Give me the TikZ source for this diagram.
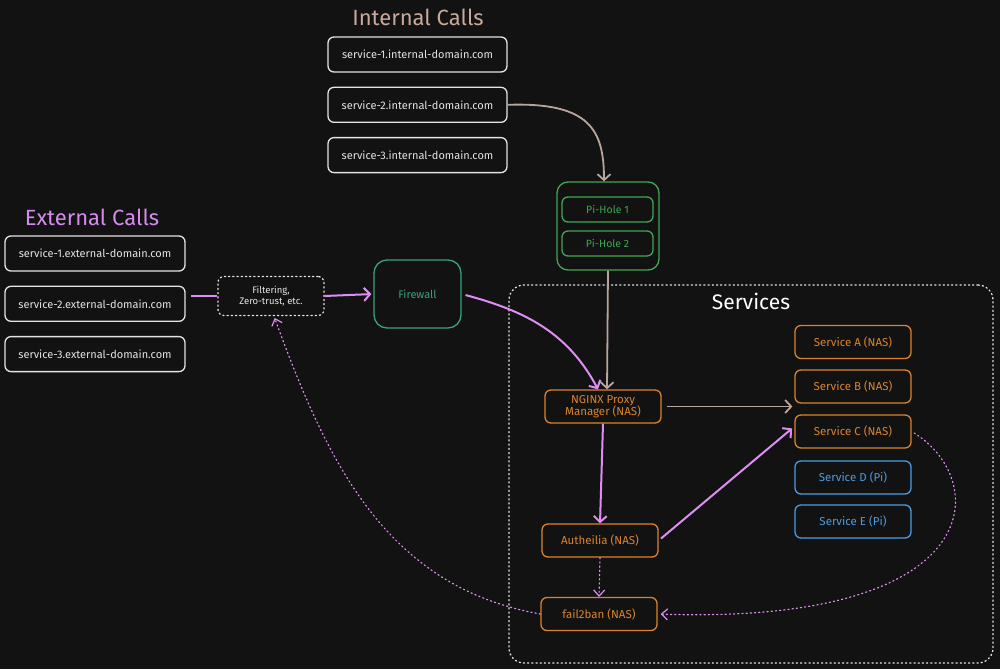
\documentclass[tikz,border=0pt]{standalone}
\usepackage{fontspec}
\setmainfont{Fira Sans}
\usepackage{tikz}
\usetikzlibrary{arrows.meta, positioning, calc}

\definecolor{bgdark}{HTML}{121212}
\definecolor{boxwhite}{HTML}{E4E4E4}
\definecolor{intcol}{HTML}{C9A99A}
\definecolor{extcol}{HTML}{D58AEE}
\definecolor{piholecol}{HTML}{3FA852}
\definecolor{fwcol}{HTML}{3AA17E}
\definecolor{nascol}{HTML}{DB832C}
\definecolor{picol}{HTML}{4C9BE2}
\definecolor{pinkline}{HTML}{DE8DF2}
\definecolor{tanline}{HTML}{B9A59C}

\begin{document}
\begin{tikzpicture}[
  x=1pt, y=-1pt,
  node distance=14pt,
  heading/.style={font=\fontsize{22}{24}\selectfont},
  urlbox/.style={
    draw=boxwhite, text=boxwhite, rounded corners=6pt, line width=1.3pt,
    minimum width=179pt, minimum height=35pt, inner sep=2pt,
    font=\fontsize{11}{13}\selectfont
  },
  svc/.style={
    draw=nascol, text=nascol, rounded corners=6pt, line width=1.3pt,
    minimum width=116pt, minimum height=33pt, inner sep=2pt, align=center,
    font=\fontsize{11.5}{12.5}\selectfont
  },
  pisvc/.style={svc, draw=picol, text=picol},
  hole/.style={svc, draw=piholecol, text=piholecol, minimum width=91pt, minimum height=25pt,
    font=\fontsize{10.5}{12}\selectfont},
  dotline/.style={dash pattern=on 1.2pt off 3pt, line cap=round},
  pinkarrow/.style={draw=pinkline, line width=2pt, -{Straight Barb[length=6pt, width=13pt]}},
  tanarrow/.style={draw=tanline, line width=1.8pt, -{Straight Barb[length=6pt, width=13pt]}},
  dotarrow/.style={draw=pinkline, line width=1.2pt, dotline, -{Straight Barb[length=6pt, width=11pt]}},
]
  % Background
  \fill[bgdark] (0,0) rectangle (1000,669);

  % Internal calls
  \node[heading, text=intcol] (inttitle) at (418,17) {Internal Calls};
  \node[urlbox] (int1) at (417.5,54.5) {service-1.internal-domain.com};
  \node[urlbox, below=of int1] (int2) {service-2.internal-domain.com};
  \node[urlbox, below=of int2] (int3) {service-3.internal-domain.com};

  % External calls
  \node[heading, text=extcol] (exttitle) at (92,217) {External Calls};
  \node[urlbox, minimum width=180pt] (ext1) at (95,253.5) {service-1.external-domain.com};
  \node[urlbox, minimum width=180pt, below=of ext1] (ext2) {service-2.external-domain.com};
  \node[urlbox, minimum width=180pt, below=of ext2] (ext3) {service-3.external-domain.com};

  % Filtering and firewall
  \node[draw=boxwhite, text=boxwhite, dotline, line width=1.3pt, rounded corners=6pt,
    minimum width=106pt, minimum height=39pt, align=center,
    font=\fontsize{9.5}{11.5}\selectfont] (filter) at (271,296) {Filtering,\\Zero-trust, etc.};
  \node[draw=fwcol, text=fwcol, line width=1.3pt, rounded corners=13pt,
    minimum width=87pt, minimum height=68pt,
    font=\fontsize{11}{13}\selectfont] (firewall) at (417.5,294) {Firewall};

  % Pi-hole
  \node[draw=piholecol, line width=1.3pt, rounded corners=11pt,
    minimum width=102pt, minimum height=88pt] (pihole) at (608,226) {};
  \node[hole] (hole1) at (607.5,209.5) {Pi-Hole 1};
  \node[hole] (hole2) at (607.5,243.5) {Pi-Hole 2};

  % Services
  \node[draw=boxwhite, dotline, line width=1.3pt, rounded corners=15pt,
    minimum width=484pt, minimum height=378pt] (services) at (751,474) {};
  \node[text=white, font=\fontsize{21}{23}\selectfont] (svctitle) at (751,301) {Services};
  \node[svc] (nginx) at (603,406.5) {NGINX Proxy\\Manager (NAS)};
  \node[svc] (auth) at (600,540.5) {Autheilia (NAS)};
  \node[svc] (f2b) at (599,614) {fail2ban (NAS)};
  \node[svc] (svcA) at (853,342) {Service A (NAS)};
  \node[svc] (svcB) at (853,386.5) {Service B (NAS)};
  \node[svc] (svcC) at (853,431.5) {Service C (NAS)};
  \node[pisvc] (svcD) at (853,477.5) {Service D (Pi)};
  \node[pisvc] (svcE) at (853,521.5) {Service E (Pi)};

  % DNS path
  \draw[tanarrow] (int2.east) .. controls (590,102) and (604,130) .. ([xshift=-4pt]pihole.north);
  \draw[tanarrow] (pihole.south) -- ([xshift=4pt]nginx.north);
  \draw[tanarrow, shorten <=5pt, shorten >=2pt] (nginx.east) -- (nginx.east -| svcB.west);

  % External path
  \draw[pinkarrow, -, shorten <=5pt] (filter.west -| ext2.east) -- (filter.west);
  \draw[pinkarrow, shorten >=2pt] (filter.east) -- (firewall.west);
  \draw[pinkarrow, shorten <=4pt] (firewall.east) to[out=-15, in=118] ([xshift=-5pt]nginx.north);
  \draw[pinkarrow] (nginx.south) -- (auth.north);
  \draw[pinkarrow, shorten <=3pt, shorten >=3pt] (auth.east) -- ([yshift=5pt]svcC.west);

  % Bans
  \draw[dotarrow] (auth.south) -- (f2b.north);
  \draw[dotarrow, shorten <=3pt, shorten >=3pt] (svcC.east) .. controls (990,480) and (990,625) .. (f2b.east);
  \draw[dotarrow, shorten >=2pt] (f2b.west) to[out=170, in=-70] ([xshift=3pt]filter.south);

\end{tikzpicture}
\end{document}
